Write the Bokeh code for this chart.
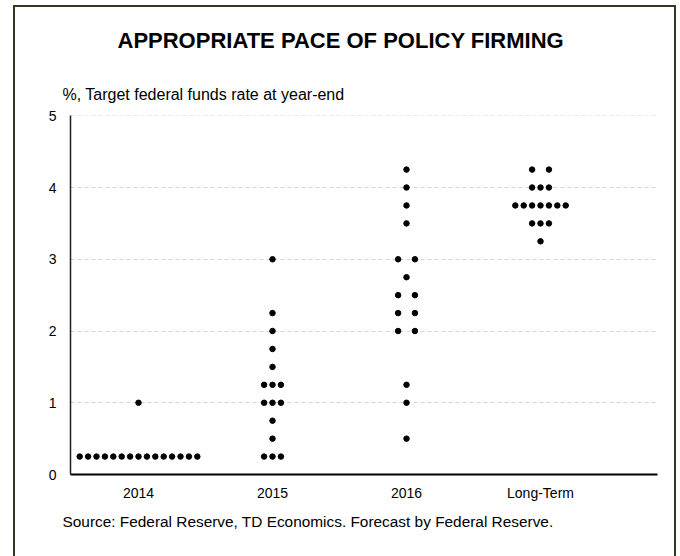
from collections import Counter

from bokeh.plotting import figure
from bokeh.models import Range1d, FixedTicker, Title, ColumnDataSource
from bokeh.embed import file_html
from bokeh.resources import INLINE

# ---- data ----
categories = ["2014", "2015", "2016", "Long-Term"]
rates_2014 = [0.25, 0.25, 0.25, 0.25, 0.25, 0.25, 0.25, 0.25, 0.25, 0.25,
              0.25, 0.25, 0.25, 0.25, 0.25, 1.0]
rates_2015 = [0.25, 0.25, 0.25, 0.5, 0.75, 1.0, 1.0, 1.0, 1.25, 1.25, 1.25,
              1.5, 1.75, 2.0, 2.25, 3.0]
rates_2016 = [0.5, 1.0, 1.25, 2.0, 2.0, 2.25, 2.25, 2.5, 2.5, 2.75, 3.0, 3.0,
              3.5, 3.75, 4.0, 4.25]
rates_lt = [3.25, 3.5, 3.5, 3.5, 3.75, 3.75, 3.75, 3.75, 3.75, 3.75, 3.75,
            4.0, 4.0, 4.0, 4.25, 4.25]
y_ticks = [0, 1, 2, 3, 4, 5]

title_text = "APPROPRIATE PACE OF POLICY FIRMING"
subtitle_text = "%, Target federal funds rate at year-end"
source_text = "Source: Federal Reserve, TD Economics. Forecast by Federal Reserve."

FONT = "Liberation Sans"
SLOT = 0.0627  # horizontal spacing between dots sharing a value (x units)

# ---- build dot positions (dot-plot layout) ----
xs, ys = [], []
for ci, vals in enumerate([rates_2014, rates_2015, rates_2016, rates_lt]):
    center = ci + 1
    for v, n in sorted(Counter(vals).items()):
        if n % 2 == 1:
            ks = list(range(-(n - 1) // 2, (n - 1) // 2 + 1))
        else:
            ks = list(range(-n // 2, 0)) + list(range(1, n // 2 + 1))
        for k in ks:
            xs.append(center + k * SLOT)
            ys.append(v)
src = ColumnDataSource(dict(x=xs, y=ys))

W, H = 680, 556
X0, X1 = 0.4925, 4.873
frame_css = """
:host { position: relative; }
:host::after {
  content: ""; position: absolute; left: 13px; top: 5px; width: 659px; height: 549px;
  border: 2px solid #2f3a22; border-bottom: none; pointer-events: none; box-sizing: content-box;
}
"""
p = figure(width=W, height=H, output_backend="svg", toolbar_location=None,
           x_range=Range1d(X0, X1), y_range=Range1d(0, 5.004),
           min_border_left=70, min_border_right=23, min_border_top=115,
           min_border_bottom=82, stylesheets=[frame_css])
p.outline_line_color = None
p.background_fill_color = "white"
p.border_fill_color = "white"

p.scatter("x", "y", source=src, size=5.5, color="black", marker="circle")

# axes
xa = p.xaxis[0]
xa.ticker = FixedTicker(ticks=[1, 2, 3, 4])
xa.major_label_overrides = {i + 1: c for i, c in enumerate(categories)}
xa.axis_line_color = "black"
xa.axis_line_width = 2
xa.major_tick_line_color = None
xa.minor_tick_line_color = None
xa.major_tick_out = 0
xa.major_label_standoff = 10
xa.major_label_text_font = FONT
xa.major_label_text_font_size = "14px"
xa.major_label_text_color = "black"

ya = p.yaxis[0]
ya.ticker = FixedTicker(ticks=y_ticks)
ya.axis_line_color = "#1b2312"
ya.axis_line_width = 1.5
ya.major_tick_line_color = None
ya.minor_tick_line_color = None
ya.major_tick_out = 0
ya.major_label_standoff = 14
ya.major_label_text_font = FONT
ya.major_label_text_font_size = "14px"
ya.major_label_text_color = "black"

p.xgrid.grid_line_color = None
p.ygrid.ticker = FixedTicker(ticks=y_ticks[1:])
p.ygrid.grid_line_color = "#d4d4d4"
p.ygrid.grid_line_dash = "4 3"
p.ygrid.grid_line_width = 1

# texts as titles in the side panels
p.add_layout(Title(text=subtitle_text, align="left", offset=-8, standoff=26,
                   text_font=FONT, text_font_size="16px", text_font_style="normal",
                   text_color="black"), "above")
p.add_layout(Title(text=title_text, align="left", offset=47, standoff=35,
                   text_font=FONT, text_font_size="22px", text_font_style="bold",
                   text_color="black"), "above")
p.add_layout(Title(text=source_text, align="left", offset=-8, standoff=15,
                   text_font=FONT, text_font_size="15.4px", text_font_style="normal",
                   text_color="black"), "below")

open("out.html", "w").write(file_html(p, INLINE))
